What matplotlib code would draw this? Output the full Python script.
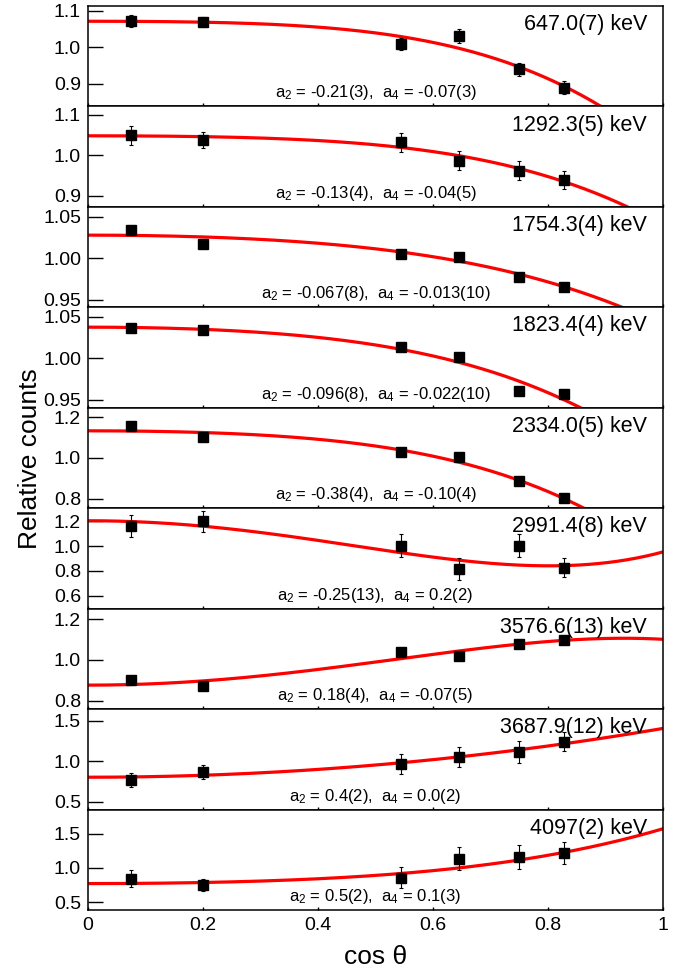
import numpy as np
import matplotlib.pyplot as plt
from matplotlib.ticker import FixedLocator, FormatStrFormatter

plt.rcParams['font.family'] = ['Liberation Sans', 'DejaVu Sans']
plt.rcParams['mathtext.fontset'] = 'custom'
plt.rcParams['mathtext.rm'] = 'Liberation Sans'
plt.rcParams['mathtext.it'] = 'Liberation Sans'

# detector angles (cos theta), shared by every transition
cos_theta = [0.075, 0.2, 0.545, 0.645, 0.75, 0.827]

energies = ["647.0(7) keV", "1292.3(5) keV", "1754.3(4) keV", "1823.4(4) keV",
            "2334.0(5) keV", "2991.4(8) keV", "3576.6(13) keV", "3687.9(12) keV",
            "4097(2) keV"]

counts = [
    [1.072, 1.069, 1.009, 1.030, 0.939, 0.889],
    [1.049, 1.037, 1.032, 0.987, 0.962, 0.939],
    [1.034, 1.017, 1.005, 1.002, 0.978, 0.965],
    [1.036, 1.034, 1.013, 1.001, 0.961, 0.957],
    [1.156, 1.104, 1.028, 1.005, 0.888, 0.801],
    [1.163, 1.200, 1.003, 0.813, 1.003, 0.827],
    [0.900, 0.874, 1.038, 1.020, 1.077, 1.098],
    [0.769, 0.872, 0.967, 1.058, 1.112, 1.244],
    [0.845, 0.754, 0.860, 1.135, 1.159, 1.222],
]

errors = [
    [0.017, 0.014, 0.016, 0.019, 0.018, 0.017],
    [0.023, 0.020, 0.023, 0.024, 0.023, 0.022],
    [0.003, 0.003, 0.003, 0.003, 0.003, 0.003],
    [0.003, 0.003, 0.003, 0.003, 0.003, 0.003],
    [0.012, 0.010, 0.012, 0.014, 0.012, 0.010],
    [0.087, 0.083, 0.092, 0.088, 0.093, 0.076],
    [0.015, 0.012, 0.018, 0.020, 0.018, 0.020],
    [0.087, 0.087, 0.118, 0.124, 0.138, 0.120],
    [0.128, 0.089, 0.155, 0.164, 0.174, 0.157],
]

# Legendre fit coefficients: A0, a2, a4
a0 = [0.993, 0.998, 0.9994, 0.9976, 0.983, 1.003, 0.992, 1.005, 0.982]
a2 = [-0.21, -0.13, -0.067, -0.096, -0.38, -0.25, 0.18, 0.4, 0.5]
a4 = [-0.07, -0.04, -0.013, -0.022, -0.10, 0.2, -0.07, 0.0, 0.1]

fit_labels = [
    r"a$_2$ = -0.21(3),  a$_4$ = -0.07(3)",
    r"a$_2$ = -0.13(4),  a$_4$ = -0.04(5)",
    r"a$_2$ = -0.067(8),  a$_4$ = -0.013(10)",
    r"a$_2$ = -0.096(8),  a$_4$ = -0.022(10)",
    r"a$_2$ = -0.38(4),  a$_4$ = -0.10(4)",
    r"a$_2$ = -0.25(13),  a$_4$ = 0.2(2)",
    r"a$_2$ = 0.18(4),  a$_4$ = -0.07(5)",
    r"a$_2$ = 0.4(2),  a$_4$ = 0.0(2)",
    r"a$_2$ = 0.5(2),  a$_4$ = 0.1(3)",
]

ylims = [(0.837, 1.113), (0.873, 1.12), (0.941, 1.062), (0.9405, 1.061),
         (0.752, 1.246), (0.496, 1.304), (0.759, 1.251), (0.404, 1.645),
         (0.388, 1.85)]
yticks = [[0.9, 1.0, 1.1], [0.9, 1.0, 1.1], [0.95, 1.0, 1.05], [0.95, 1.0, 1.05],
          [0.8, 1.0, 1.2], [0.6, 0.8, 1.0, 1.2], [0.8, 1.0, 1.2], [0.5, 1.0, 1.5],
          [0.5, 1.0, 1.5]]
yfmt = ["%.1f", "%.1f", "%.2f", "%.2f", "%.1f", "%.1f", "%.1f", "%.1f", "%.1f"]


def legendre_w(x, A, b2, b4):
    p2 = 0.5 * (3 * x**2 - 1)
    p4 = (35 * x**4 - 30 * x**2 + 3) / 8.0
    return A * (1 + b2 * p2 + b4 * p4)


fig, axes = plt.subplots(9, 1, figsize=(6.89, 9.73), dpi=100, sharex=True)
fig.subplots_adjust(left=0.1277, right=0.9623, top=0.9938, bottom=0.0647, hspace=0)

xs = np.linspace(0, 1, 300)
for i, ax in enumerate(axes):
    ax.plot(xs, legendre_w(xs, a0[i], a2[i], a4[i]), color="#ff0000", lw=2.3, zorder=2)
    ax.errorbar(cos_theta, counts[i], yerr=errors[i], fmt="s", color="black",
                ms=6.5, elinewidth=0.8, capsize=1.5, capthick=0.8, zorder=3)
    ax.set_xlim(0, 1)
    ax.set_ylim(*ylims[i])
    ax.yaxis.set_major_locator(FixedLocator(yticks[i]))
    ax.yaxis.set_major_formatter(FormatStrFormatter(yfmt[i]))
    ax.tick_params(axis="y", direction="in", length=11, width=1.0, labelsize=14, pad=5)
    ax.tick_params(axis="x", direction="in", length=2.5, width=1.0, labelsize=14, pad=5)
    for s in ax.spines.values():
        s.set_linewidth(1.1)
    ax.text(0.972, 0.92, energies[i], transform=ax.transAxes, ha="right", va="top",
            fontsize=15.5)
    ax.text(0.5, 0.09, fit_labels[i], transform=ax.transAxes, ha="center",
            va="baseline", fontsize=12)

axes[-1].set_xticks([0, 0.2, 0.4, 0.6, 0.8, 1.0])
axes[-1].set_xticklabels(["0", "0.2", "0.4", "0.6", "0.8", "1"])
axes[-1].set_xlabel("cos θ", fontsize=19, labelpad=8)
fig.text(0.044, 0.529, "Relative counts", rotation=90, ha="center", va="center",
         fontsize=19)

fig.savefig("out.png", dpi=100)
